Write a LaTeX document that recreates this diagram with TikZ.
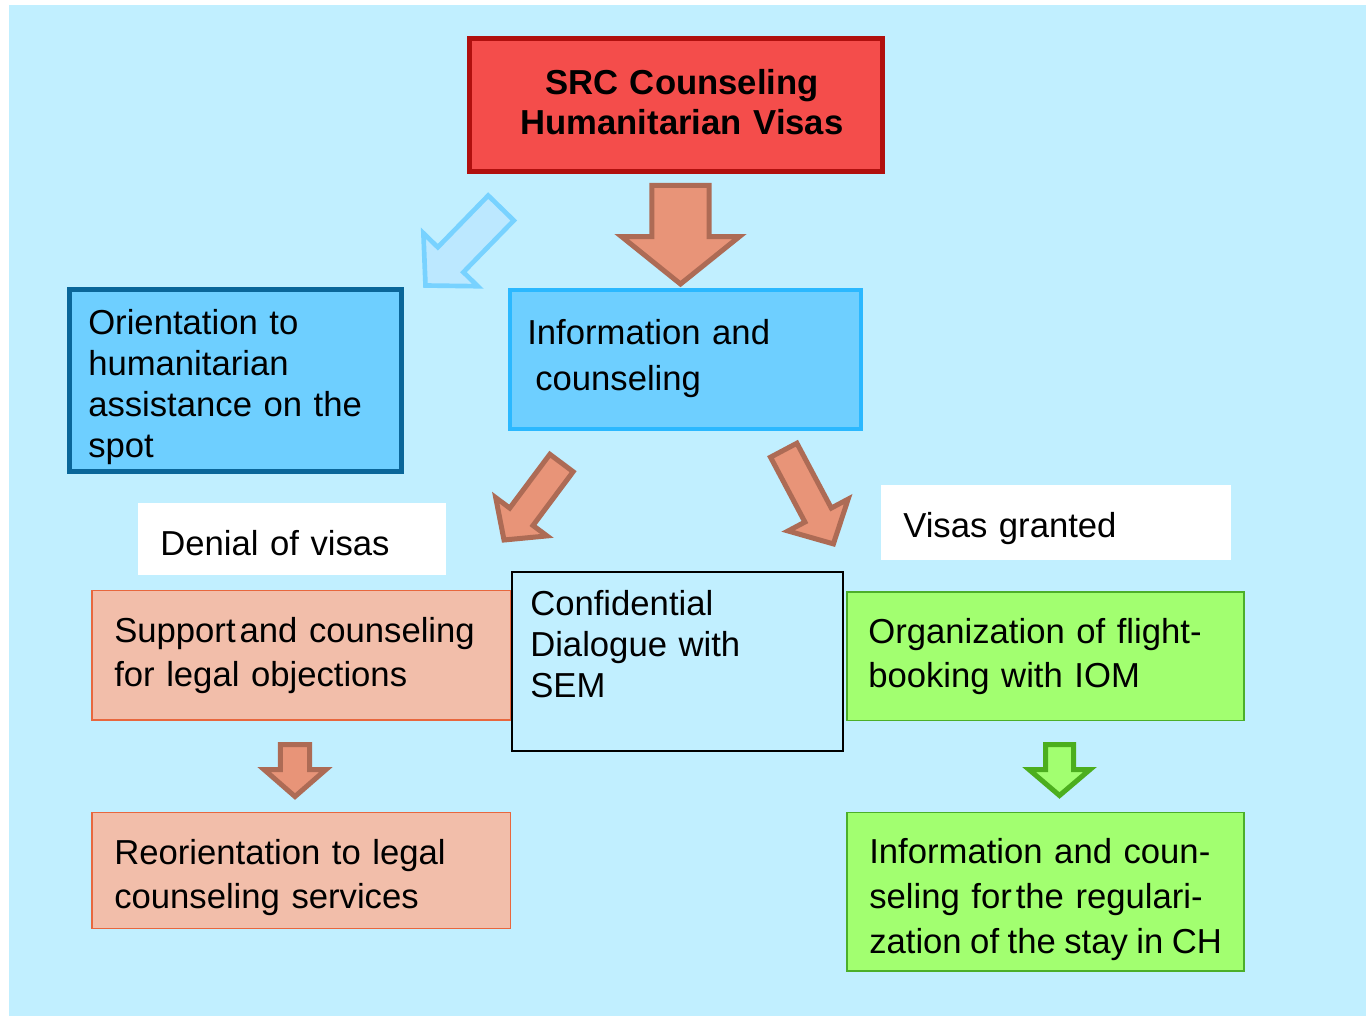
\documentclass[tikz,border=0pt]{standalone}
\usepackage{fontspec}
\setmainfont{Liberation Sans}
\usetikzlibrary{calc,fit}
\definecolor{bg}{HTML}{C1EFFF}
\definecolor{redfill}{HTML}{F44D4B}
\definecolor{redline}{HTML}{B0100E}
\definecolor{bluefill}{HTML}{6ECFFF}
\definecolor{darkblue}{HTML}{0A6699}
\definecolor{brightblue}{HTML}{2BB8FF}
\definecolor{salmonfill}{HTML}{F2BEAA}
\definecolor{salmonline}{HTML}{E8673E}
\definecolor{greenfill}{HTML}{A2FF70}
\definecolor{greenline}{HTML}{4CAF2A}
\definecolor{arrfill}{HTML}{E89478}
\definecolor{arrline}{HTML}{AD6B55}
\definecolor{ltarrfill}{HTML}{BCE8FF}
\definecolor{ltarrline}{HTML}{78D2FF}
\definecolor{grarrline}{HTML}{4CAE1E}
\newcommand\fs{\fontsize{26pt}{30.75pt}\selectfont}
\newcommand\tsp{\hspace{3pt}}
\newcommand\blockarrow[6]{%
  \coordinate (baB) at ($(#2)!#5!(#1)$);
  \draw[#6] ($(#1)!#3!90:(#2)$) -- ($(baB)!#3!90:(#2)$) -- ($(baB)!#4!90:(#2)$) -- (#2)
    -- ($(baB)!#4!-90:(#2)$) -- ($(baB)!#3!-90:(#2)$) -- ($(#1)!#3!-90:(#2)$) -- cycle;}
\tikzset{
  box/.style={inner sep=0pt, rectangle},
  redbox/.style={box, fill=redfill, draw=redline, line width=3.75pt},
  orientbox/.style={box, fill=bluefill, draw=darkblue, line width=3.75pt},
  infobox/.style={box, fill=bluefill, draw=brightblue, line width=3pt},
  salmonbox/.style={box, fill=salmonfill, draw=salmonline, line width=1.1pt},
  greenbox/.style={box, fill=greenfill, draw=greenline, line width=1.1pt},
  plainbox/.style={box, draw=black, line width=1.5pt},
  whitebox/.style={box, fill=white},
  txt/.style={anchor=base west, inner sep=0pt, text width=375pt, align=left, font=\fs},
  salarrow/.style={fill=arrfill, draw=arrline, line width=3.75pt, line join=miter},
  ltarrow/.style={fill=ltarrfill, draw=ltarrline, line width=3.5pt, line join=miter},
  grarrow/.style={fill=greenfill, draw=grarrline, line width=3.75pt, line join=miter},
}
\begin{document}
\begin{tikzpicture}[x=0.75pt, y=-0.75pt]
\useasboundingbox (0,0) rectangle (1366,1016);
\fill[bg] (9,5) rectangle (1366,1016);

% boxes
\node[redbox, fit={(469.5,38.5)(882.5,171.5)}] (title) {};
\node[anchor=base, inner sep=0pt, align=center, text width=400pt,
      font=\fontsize{26pt}{29.75pt}\selectfont\bfseries] (titletext) at (682,95)
      {SRC Counseling\\Humanitarian Visas};

\node[orientbox, fit={(69.5,289.5)(401.5,471.5)}] (orient) {};
\node[txt] (orienttext) at (88,334) {Orientation to\\humanitarian\\assistance on the\\spot};

\node[infobox, fit={(510,290)(861,429)}] (info) {};
\node[txt] (infotext) at (527,344) {Information and\\[3.75pt]\hspace*{6pt}counseling};

\node[whitebox, fit={(138,503)(446,575)}] (denial) {};
\node[txt] (denialtext) at (160,555) {Denial of visas};

\node[whitebox, fit={(881,485)(1230.5,560)}] (granted) {};
\node[txt] (grantedtext) at (903,537) {Visas granted};

\node[salmonbox, fit={(92,590.5)(511,720)}] (support) {};
\node[txt] (supporttext) at (114,642) {Support\tsp and counseling\\[2.25pt]for legal objections};

\node[plainbox, fit={(512,571.5)(843,751)}] (conf) {};
\node[txt] (conftext) at (530,615) {Confidential\\Dialogue with\\SEM};

\node[greenbox, fit={(847,592)(1244,720.5)}] (org) {};
\node[txt] (orgtext) at (868,643) {Organization of flight-\\[2.25pt]booking with IOM};

\node[salmonbox, fit={(92,812.5)(510.5,928.5)}] (reorient) {};
\node[txt] (reorienttext) at (114,864) {Reorientation to legal\\[2.25pt]counseling services};

\node[greenbox, fit={(847,812.5)(1244,971)}] (regul) {};
\node[txt] (regultext) at (869,863) {Information and coun-\\[3pt]seling for\tsp the regulari-\\[3pt]{\spaceskip=0.245em zation of the stay in CH}};

% block arrows
\coordinate (a1t) at (680.5,185.5); \coordinate (a1h) at (680.5,284);
\blockarrow{a1t}{a1h}{21.4pt}{44.25pt}{35.6pt}{salarrow}

\coordinate (a2t) at (501,208); \coordinate (a2h) at (425.5,285.5);
\blockarrow{a2t}{a2h}{13.4pt}{28.5pt}{27pt}{ltarrow}

\coordinate (a3t) at (561.5,463); \coordinate (a3h) at (504,540);
\blockarrow{a3t}{a3h}{10.9pt}{24pt}{21.75pt}{salarrow}

\coordinate (a4t) at (783.7,450.2); \coordinate (a4h) at (833.4,543.9);
\blockarrow{a4t}{a4h}{11.2pt}{25.5pt}{24.5pt}{salarrow}

\coordinate (a5t) at (295,744.5); \coordinate (a5h) at (295,796.5);
\blockarrow{a5t}{a5h}{10.9pt}{23.25pt}{20.25pt}{salarrow}

\coordinate (a6t) at (1059.5,744.5); \coordinate (a6h) at (1059.5,795.5);
\blockarrow{a6t}{a6h}{10.5pt}{22.9pt}{19.5pt}{grarrow}
\end{tikzpicture}
\end{document}
